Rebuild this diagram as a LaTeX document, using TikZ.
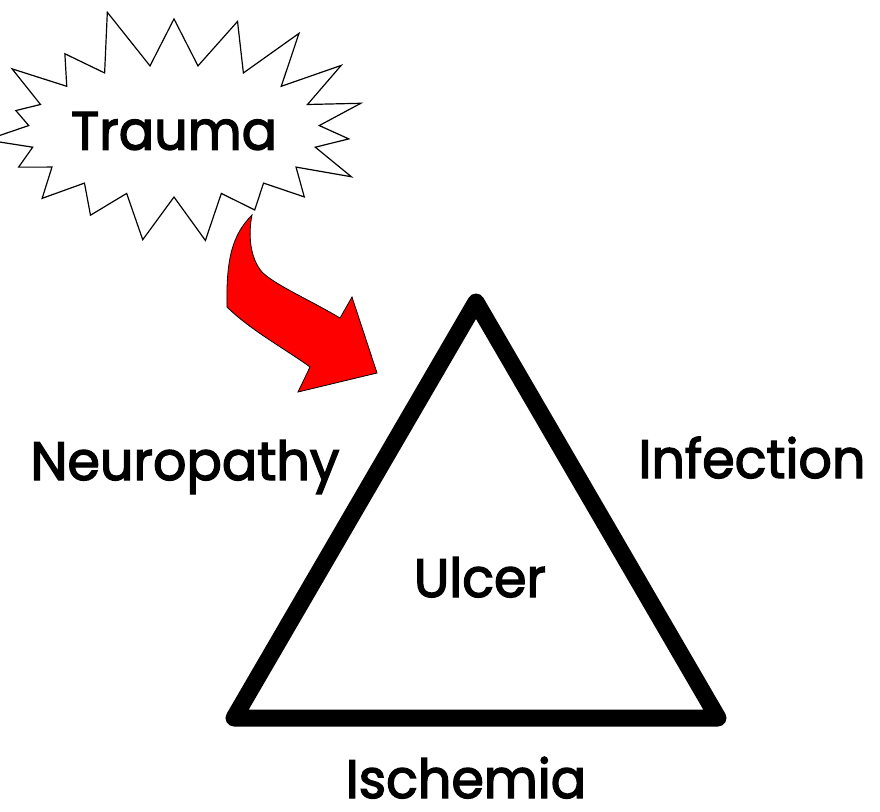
\documentclass[tikz,border=0pt]{standalone}
\usepackage{fontspec}
\setmainfont{Poppins}[FakeStretch=0.97, FakeBold=2.5]
\usetikzlibrary{shapes.symbols}

\tikzset{
  lbl/.style={font=\fontsize{54}{58}\selectfont, inner sep=0pt},
  burst/.style={starburst, draw, line width=1.2pt, fill=white,
    starburst points=19, starburst point height=62pt, random starburst=11,
    minimum width=336pt, minimum height=256pt, inner sep=0pt},
}

\begin{document}
\begin{tikzpicture}[x=1pt,y=-1pt]
\useasboundingbox (0,0) rectangle (880,811);
\fill[white] (0,0) rectangle (880,811);
% triangle
\coordinate (apex) at (476,302);
\coordinate (bl) at (234,718);
\coordinate (br) at (718,718);
\draw[line width=17pt, line join=round] (apex) -- (br) -- (bl) -- cycle;
% trauma burst
\node[burst, lbl] (trauma) at (174,131) {Trauma};
% red arrow
\fill[red, draw=black, line width=0.8pt]
  (252,215) .. controls (232,235) and (226,260) .. (227,307)
  .. controls (250,330) and (290,352) .. (310,367)
  -- (298,392) -- (377,373) -- (352,297) -- (340,318)
  .. controls (310,300) and (275,285) .. (262,272)
  .. controls (250,258) and (248,235) .. (252,215) -- cycle;
% labels
\node[lbl, anchor=base] (neuro) at (185,480) {Neuropathy};
\node[lbl, anchor=base] (infect) at (752,478) {Infection};
\node[lbl, anchor=base] (ulcer) at (480,597) {Ulcer};
\node[lbl, anchor=base, text depth=0pt] (isch) at (466,798) {Ischemia};
\end{tikzpicture}
\end{document}
